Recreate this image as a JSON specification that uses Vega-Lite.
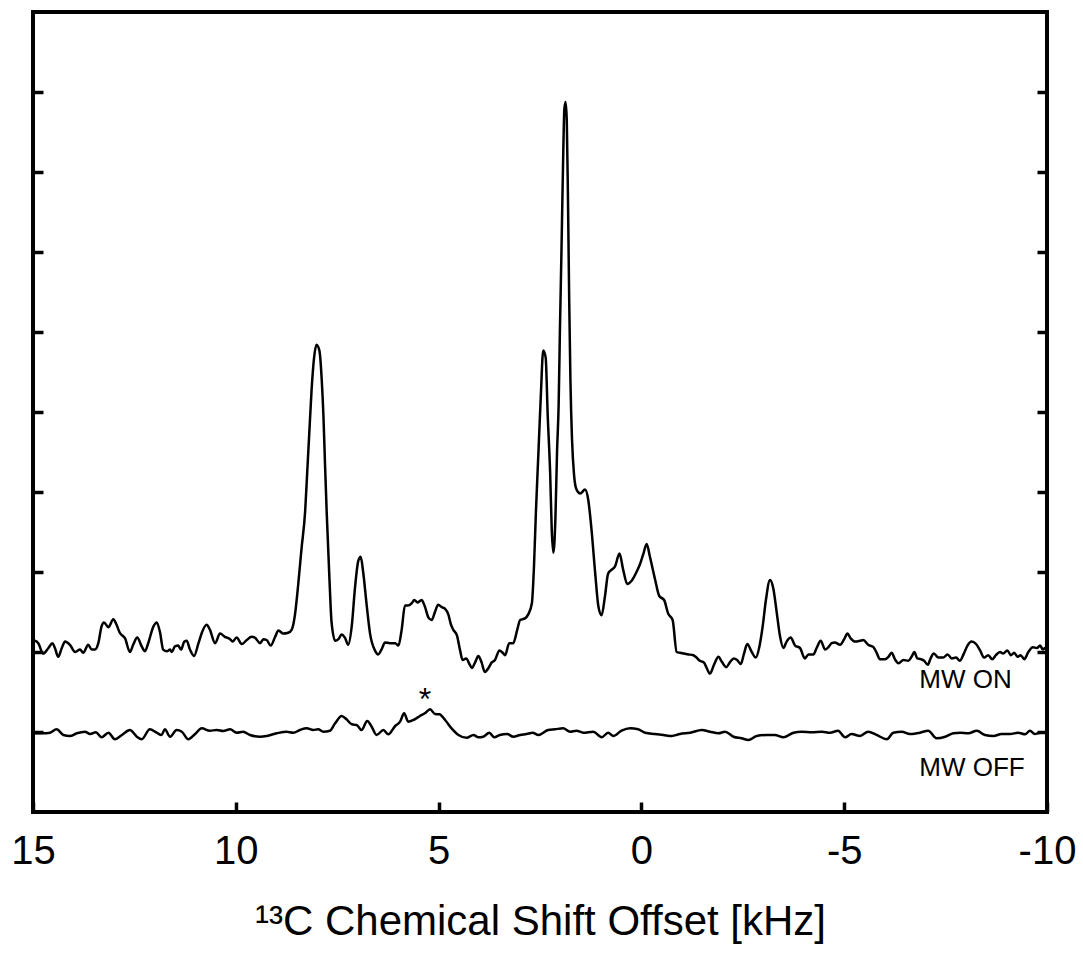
{
  "$schema": "https://vega.github.io/schema/vega-lite/v6.json",
  "width": 1014,
  "height": 800,
  "autosize": {"type": "none"},
  "padding": {"left": 33, "top": 12, "right": 36, "bottom": 142},
  "background": "white",
  "config": {
    "view": {"stroke": "black", "strokeWidth": 4},
    "font": "Liberation Sans"
  },
  "datasets": {
    "spectra": [
      {"trace":"MW ON","x":15.0,"y":2.10},{"trace":"MW ON","x":14.95,"y":2.14},{"trace":"MW ON","x":14.87,"y":2.11},{"trace":"MW ON","x":14.75,"y":1.98},{"trace":"MW ON","x":14.62,"y":2.05},{"trace":"MW ON","x":14.52,"y":2.11},{"trace":"MW ON","x":14.46,"y":2.05},{"trace":"MW ON","x":14.38,"y":1.94},{"trace":"MW ON","x":14.29,"y":2.05},{"trace":"MW ON","x":14.21,"y":2.13},{"trace":"MW ON","x":14.09,"y":2.09},{"trace":"MW ON","x":13.96,"y":2.00},{"trace":"MW ON","x":13.84,"y":2.03},{"trace":"MW ON","x":13.76,"y":1.99},{"trace":"MW ON","x":13.64,"y":2.09},{"trace":"MW ON","x":13.55,"y":2.03},{"trace":"MW ON","x":13.47,"y":2.03},{"trace":"MW ON","x":13.39,"y":2.11},{"trace":"MW ON","x":13.31,"y":2.32},{"trace":"MW ON","x":13.25,"y":2.37},{"trace":"MW ON","x":13.14,"y":2.31},{"trace":"MW ON","x":13.02,"y":2.41},{"trace":"MW ON","x":12.94,"y":2.34},{"trace":"MW ON","x":12.86,"y":2.24},{"trace":"MW ON","x":12.73,"y":2.17},{"trace":"MW ON","x":12.61,"y":2.00},{"trace":"MW ON","x":12.53,"y":2.09},{"trace":"MW ON","x":12.43,"y":2.18},{"trace":"MW ON","x":12.32,"y":2.07},{"trace":"MW ON","x":12.24,"y":2.01},{"trace":"MW ON","x":12.16,"y":2.11},{"trace":"MW ON","x":12.03,"y":2.32},{"trace":"MW ON","x":11.95,"y":2.37},{"trace":"MW ON","x":11.87,"y":2.25},{"trace":"MW ON","x":11.79,"y":2.03},{"trace":"MW ON","x":11.70,"y":2.01},{"trace":"MW ON","x":11.62,"y":2.03},{"trace":"MW ON","x":11.58,"y":2.00},{"trace":"MW ON","x":11.50,"y":2.07},{"trace":"MW ON","x":11.42,"y":2.08},{"trace":"MW ON","x":11.35,"y":2.03},{"trace":"MW ON","x":11.27,"y":2.13},{"trace":"MW ON","x":11.21,"y":2.14},{"trace":"MW ON","x":11.13,"y":2.03},{"trace":"MW ON","x":11.03,"y":1.95},{"trace":"MW ON","x":10.92,"y":2.11},{"trace":"MW ON","x":10.83,"y":2.25},{"trace":"MW ON","x":10.72,"y":2.34},{"trace":"MW ON","x":10.64,"y":2.28},{"trace":"MW ON","x":10.51,"y":2.11},{"trace":"MW ON","x":10.39,"y":2.23},{"trace":"MW ON","x":10.27,"y":2.19},{"trace":"MW ON","x":10.14,"y":2.16},{"trace":"MW ON","x":10.08,"y":2.13},{"trace":"MW ON","x":9.98,"y":2.18},{"trace":"MW ON","x":9.85,"y":2.10},{"trace":"MW ON","x":9.73,"y":2.15},{"trace":"MW ON","x":9.61,"y":2.19},{"trace":"MW ON","x":9.53,"y":2.18},{"trace":"MW ON","x":9.40,"y":2.11},{"trace":"MW ON","x":9.32,"y":2.16},{"trace":"MW ON","x":9.24,"y":2.15},{"trace":"MW ON","x":9.14,"y":2.08},{"trace":"MW ON","x":9.03,"y":2.19},{"trace":"MW ON","x":8.95,"y":2.27},{"trace":"MW ON","x":8.83,"y":2.23},{"trace":"MW ON","x":8.71,"y":2.24},{"trace":"MW ON","x":8.62,"y":2.28},{"trace":"MW ON","x":8.54,"y":2.47},{"trace":"MW ON","x":8.46,"y":2.85},{"trace":"MW ON","x":8.38,"y":3.29},{"trace":"MW ON","x":8.29,"y":3.76},{"trace":"MW ON","x":8.24,"y":4.24},{"trace":"MW ON","x":8.19,"y":4.72},{"trace":"MW ON","x":8.13,"y":5.29},{"trace":"MW ON","x":8.07,"y":5.68},{"trace":"MW ON","x":8.01,"y":5.84},{"trace":"MW ON","x":7.94,"y":5.77},{"trace":"MW ON","x":7.88,"y":5.39},{"trace":"MW ON","x":7.84,"y":4.96},{"trace":"MW ON","x":7.80,"y":4.34},{"trace":"MW ON","x":7.76,"y":3.76},{"trace":"MW ON","x":7.69,"y":2.90},{"trace":"MW ON","x":7.64,"y":2.38},{"trace":"MW ON","x":7.55,"y":2.14},{"trace":"MW ON","x":7.47,"y":2.16},{"trace":"MW ON","x":7.39,"y":2.22},{"trace":"MW ON","x":7.31,"y":2.18},{"trace":"MW ON","x":7.23,"y":2.09},{"trace":"MW ON","x":7.14,"y":2.33},{"trace":"MW ON","x":7.06,"y":2.81},{"trace":"MW ON","x":6.98,"y":3.14},{"trace":"MW ON","x":6.92,"y":3.19},{"trace":"MW ON","x":6.86,"y":3.00},{"trace":"MW ON","x":6.77,"y":2.57},{"trace":"MW ON","x":6.69,"y":2.23},{"trace":"MW ON","x":6.57,"y":2.02},{"trace":"MW ON","x":6.49,"y":1.97},{"trace":"MW ON","x":6.40,"y":2.04},{"trace":"MW ON","x":6.32,"y":2.12},{"trace":"MW ON","x":6.20,"y":2.11},{"trace":"MW ON","x":6.07,"y":2.11},{"trace":"MW ON","x":5.99,"y":2.08},{"trace":"MW ON","x":5.91,"y":2.28},{"trace":"MW ON","x":5.83,"y":2.58},{"trace":"MW ON","x":5.75,"y":2.58},{"trace":"MW ON","x":5.66,"y":2.61},{"trace":"MW ON","x":5.60,"y":2.65},{"trace":"MW ON","x":5.52,"y":2.62},{"trace":"MW ON","x":5.42,"y":2.65},{"trace":"MW ON","x":5.34,"y":2.57},{"trace":"MW ON","x":5.25,"y":2.43},{"trace":"MW ON","x":5.17,"y":2.40},{"trace":"MW ON","x":5.09,"y":2.50},{"trace":"MW ON","x":5.01,"y":2.59},{"trace":"MW ON","x":4.92,"y":2.56},{"trace":"MW ON","x":4.84,"y":2.54},{"trace":"MW ON","x":4.76,"y":2.47},{"trace":"MW ON","x":4.70,"y":2.35},{"trace":"MW ON","x":4.64,"y":2.28},{"trace":"MW ON","x":4.55,"y":2.21},{"trace":"MW ON","x":4.47,"y":2.02},{"trace":"MW ON","x":4.41,"y":1.90},{"trace":"MW ON","x":4.32,"y":1.92},{"trace":"MW ON","x":4.24,"y":1.85},{"trace":"MW ON","x":4.18,"y":1.80},{"trace":"MW ON","x":4.10,"y":1.87},{"trace":"MW ON","x":4.02,"y":1.95},{"trace":"MW ON","x":3.94,"y":1.87},{"trace":"MW ON","x":3.86,"y":1.75},{"trace":"MW ON","x":3.77,"y":1.80},{"trace":"MW ON","x":3.69,"y":1.87},{"trace":"MW ON","x":3.61,"y":1.90},{"trace":"MW ON","x":3.50,"y":2.02},{"trace":"MW ON","x":3.42,"y":1.99},{"trace":"MW ON","x":3.36,"y":1.96},{"trace":"MW ON","x":3.26,"y":2.11},{"trace":"MW ON","x":3.16,"y":2.11},{"trace":"MW ON","x":3.06,"y":2.28},{"trace":"MW ON","x":2.99,"y":2.40},{"trace":"MW ON","x":2.87,"y":2.42},{"trace":"MW ON","x":2.79,"y":2.47},{"trace":"MW ON","x":2.70,"y":2.61},{"trace":"MW ON","x":2.65,"y":3.05},{"trace":"MW ON","x":2.60,"y":3.76},{"trace":"MW ON","x":2.54,"y":4.48},{"trace":"MW ON","x":2.48,"y":5.20},{"trace":"MW ON","x":2.42,"y":5.77},{"trace":"MW ON","x":2.36,"y":5.68},{"trace":"MW ON","x":2.31,"y":4.96},{"trace":"MW ON","x":2.25,"y":4.24},{"trace":"MW ON","x":2.21,"y":3.52},{"trace":"MW ON","x":2.17,"y":3.24},{"trace":"MW ON","x":2.12,"y":3.67},{"trace":"MW ON","x":2.08,"y":4.50},{"trace":"MW ON","x":2.04,"y":5.10},{"trace":"MW ON","x":2.01,"y":5.99},{"trace":"MW ON","x":1.97,"y":7.03},{"trace":"MW ON","x":1.93,"y":8.15},{"trace":"MW ON","x":1.90,"y":8.78},{"trace":"MW ON","x":1.87,"y":8.875},{"trace":"MW ON","x":1.84,"y":8.65},{"trace":"MW ON","x":1.81,"y":7.65},{"trace":"MW ON","x":1.78,"y":6.40},{"trace":"MW ON","x":1.75,"y":5.40},{"trace":"MW ON","x":1.71,"y":4.65},{"trace":"MW ON","x":1.66,"y":4.21},{"trace":"MW ON","x":1.60,"y":4.03},{"trace":"MW ON","x":1.51,"y":3.98},{"trace":"MW ON","x":1.39,"y":4.03},{"trace":"MW ON","x":1.31,"y":3.90},{"trace":"MW ON","x":1.23,"y":3.53},{"trace":"MW ON","x":1.14,"y":2.99},{"trace":"MW ON","x":1.06,"y":2.57},{"trace":"MW ON","x":0.98,"y":2.46},{"trace":"MW ON","x":0.90,"y":2.69},{"trace":"MW ON","x":0.82,"y":2.98},{"trace":"MW ON","x":0.73,"y":3.03},{"trace":"MW ON","x":0.65,"y":3.07},{"trace":"MW ON","x":0.54,"y":3.23},{"trace":"MW ON","x":0.45,"y":3.03},{"trace":"MW ON","x":0.35,"y":2.85},{"trace":"MW ON","x":0.24,"y":2.89},{"trace":"MW ON","x":0.12,"y":3.00},{"trace":"MW ON","x":0.04,"y":3.09},{"trace":"MW ON","x":-0.05,"y":3.23},{"trace":"MW ON","x":-0.13,"y":3.35},{"trace":"MW ON","x":-0.21,"y":3.19},{"trace":"MW ON","x":-0.34,"y":2.90},{"trace":"MW ON","x":-0.44,"y":2.70},{"trace":"MW ON","x":-0.56,"y":2.65},{"trace":"MW ON","x":-0.66,"y":2.48},{"trace":"MW ON","x":-0.77,"y":2.40},{"trace":"MW ON","x":-0.87,"y":2.00},{"trace":"MW ON","x":-0.95,"y":1.99},{"trace":"MW ON","x":-1.05,"y":1.98},{"trace":"MW ON","x":-1.16,"y":1.97},{"trace":"MW ON","x":-1.28,"y":1.96},{"trace":"MW ON","x":-1.36,"y":1.93},{"trace":"MW ON","x":-1.44,"y":1.89},{"trace":"MW ON","x":-1.54,"y":1.87},{"trace":"MW ON","x":-1.61,"y":1.80},{"trace":"MW ON","x":-1.69,"y":1.73},{"trace":"MW ON","x":-1.79,"y":1.84},{"trace":"MW ON","x":-1.90,"y":1.94},{"trace":"MW ON","x":-1.98,"y":1.88},{"trace":"MW ON","x":-2.09,"y":1.81},{"trace":"MW ON","x":-2.18,"y":1.87},{"trace":"MW ON","x":-2.28,"y":1.92},{"trace":"MW ON","x":-2.36,"y":1.90},{"trace":"MW ON","x":-2.45,"y":1.85},{"trace":"MW ON","x":-2.53,"y":1.98},{"trace":"MW ON","x":-2.61,"y":2.10},{"trace":"MW ON","x":-2.72,"y":2.00},{"trace":"MW ON","x":-2.82,"y":1.93},{"trace":"MW ON","x":-2.91,"y":2.07},{"trace":"MW ON","x":-2.99,"y":2.32},{"trace":"MW ON","x":-3.07,"y":2.65},{"trace":"MW ON","x":-3.17,"y":2.90},{"trace":"MW ON","x":-3.25,"y":2.80},{"trace":"MW ON","x":-3.34,"y":2.48},{"trace":"MW ON","x":-3.42,"y":2.19},{"trace":"MW ON","x":-3.50,"y":2.05},{"trace":"MW ON","x":-3.58,"y":2.13},{"trace":"MW ON","x":-3.68,"y":2.18},{"trace":"MW ON","x":-3.79,"y":2.08},{"trace":"MW ON","x":-3.91,"y":2.05},{"trace":"MW ON","x":-4.03,"y":1.92},{"trace":"MW ON","x":-4.12,"y":1.97},{"trace":"MW ON","x":-4.24,"y":1.97},{"trace":"MW ON","x":-4.32,"y":2.05},{"trace":"MW ON","x":-4.42,"y":2.14},{"trace":"MW ON","x":-4.53,"y":2.03},{"trace":"MW ON","x":-4.61,"y":2.06},{"trace":"MW ON","x":-4.69,"y":2.11},{"trace":"MW ON","x":-4.77,"y":2.12},{"trace":"MW ON","x":-4.90,"y":2.09},{"trace":"MW ON","x":-5.00,"y":2.16},{"trace":"MW ON","x":-5.08,"y":2.23},{"trace":"MW ON","x":-5.16,"y":2.17},{"trace":"MW ON","x":-5.27,"y":2.13},{"trace":"MW ON","x":-5.39,"y":2.14},{"trace":"MW ON","x":-5.47,"y":2.15},{"trace":"MW ON","x":-5.59,"y":2.09},{"trace":"MW ON","x":-5.72,"y":2.06},{"trace":"MW ON","x":-5.80,"y":1.99},{"trace":"MW ON","x":-5.88,"y":1.91},{"trace":"MW ON","x":-6.01,"y":1.91},{"trace":"MW ON","x":-6.09,"y":1.94},{"trace":"MW ON","x":-6.17,"y":1.99},{"trace":"MW ON","x":-6.25,"y":1.91},{"trace":"MW ON","x":-6.34,"y":1.86},{"trace":"MW ON","x":-6.46,"y":1.90},{"trace":"MW ON","x":-6.58,"y":1.89},{"trace":"MW ON","x":-6.66,"y":1.94},{"trace":"MW ON","x":-6.73,"y":2.00},{"trace":"MW ON","x":-6.80,"y":1.92},{"trace":"MW ON","x":-6.89,"y":1.91},{"trace":"MW ON","x":-6.97,"y":1.89},{"trace":"MW ON","x":-7.06,"y":1.84},{"trace":"MW ON","x":-7.13,"y":1.92},{"trace":"MW ON","x":-7.21,"y":1.98},{"trace":"MW ON","x":-7.32,"y":1.93},{"trace":"MW ON","x":-7.44,"y":1.93},{"trace":"MW ON","x":-7.55,"y":1.97},{"trace":"MW ON","x":-7.65,"y":1.92},{"trace":"MW ON","x":-7.76,"y":1.93},{"trace":"MW ON","x":-7.85,"y":1.89},{"trace":"MW ON","x":-7.95,"y":1.98},{"trace":"MW ON","x":-8.04,"y":2.08},{"trace":"MW ON","x":-8.14,"y":2.13},{"trace":"MW ON","x":-8.25,"y":2.10},{"trace":"MW ON","x":-8.35,"y":2.02},{"trace":"MW ON","x":-8.45,"y":1.93},{"trace":"MW ON","x":-8.55,"y":1.96},{"trace":"MW ON","x":-8.65,"y":1.91},{"trace":"MW ON","x":-8.74,"y":1.96},{"trace":"MW ON","x":-8.84,"y":2.00},{"trace":"MW ON","x":-8.92,"y":1.98},{"trace":"MW ON","x":-9.02,"y":2.02},{"trace":"MW ON","x":-9.11,"y":1.96},{"trace":"MW ON","x":-9.19,"y":1.99},{"trace":"MW ON","x":-9.28,"y":1.94},{"trace":"MW ON","x":-9.35,"y":1.96},{"trace":"MW ON","x":-9.44,"y":1.91},{"trace":"MW ON","x":-9.54,"y":2.00},{"trace":"MW ON","x":-9.65,"y":2.06},{"trace":"MW ON","x":-9.75,"y":2.05},{"trace":"MW ON","x":-9.83,"y":2.08},{"trace":"MW ON","x":-9.90,"y":2.03},{"trace":"MW ON","x":-9.95,"y":2.05},{"trace":"MW ON","x":-10.0,"y":2.02},
      {"trace":"MW OFF","x":15.0,"y":0.98},{"trace":"MW OFF","x":14.95,"y":0.984},{"trace":"MW OFF","x":14.75,"y":0.984},{"trace":"MW OFF","x":14.58,"y":0.991},{"trace":"MW OFF","x":14.42,"y":1.034},{"trace":"MW OFF","x":14.25,"y":0.963},{"trace":"MW OFF","x":14.09,"y":0.950},{"trace":"MW OFF","x":13.92,"y":0.984},{"trace":"MW OFF","x":13.72,"y":1.004},{"trace":"MW OFF","x":13.59,"y":0.975},{"trace":"MW OFF","x":13.45,"y":0.996},{"trace":"MW OFF","x":13.31,"y":0.934},{"trace":"MW OFF","x":13.14,"y":0.991},{"trace":"MW OFF","x":12.98,"y":0.909},{"trace":"MW OFF","x":12.81,"y":0.963},{"trace":"MW OFF","x":12.61,"y":1.025},{"trace":"MW OFF","x":12.44,"y":0.941},{"trace":"MW OFF","x":12.32,"y":0.909},{"trace":"MW OFF","x":12.12,"y":1.034},{"trace":"MW OFF","x":11.95,"y":0.991},{"trace":"MW OFF","x":11.83,"y":0.963},{"trace":"MW OFF","x":11.75,"y":1.034},{"trace":"MW OFF","x":11.62,"y":0.941},{"trace":"MW OFF","x":11.46,"y":1.025},{"trace":"MW OFF","x":11.33,"y":1.004},{"trace":"MW OFF","x":11.17,"y":0.909},{"trace":"MW OFF","x":11.01,"y":0.971},{"trace":"MW OFF","x":10.84,"y":1.046},{"trace":"MW OFF","x":10.64,"y":1.016},{"trace":"MW OFF","x":10.47,"y":1.025},{"trace":"MW OFF","x":10.31,"y":1.013},{"trace":"MW OFF","x":10.14,"y":1.034},{"trace":"MW OFF","x":9.98,"y":0.991},{"trace":"MW OFF","x":9.82,"y":1.004},{"trace":"MW OFF","x":9.65,"y":0.963},{"trace":"MW OFF","x":9.40,"y":0.941},{"trace":"MW OFF","x":9.24,"y":0.950},{"trace":"MW OFF","x":8.99,"y":0.984},{"trace":"MW OFF","x":8.75,"y":1.004},{"trace":"MW OFF","x":8.58,"y":0.991},{"trace":"MW OFF","x":8.42,"y":1.025},{"trace":"MW OFF","x":8.25,"y":1.046},{"trace":"MW OFF","x":8.09,"y":1.025},{"trace":"MW OFF","x":7.97,"y":1.034},{"trace":"MW OFF","x":7.84,"y":1.004},{"trace":"MW OFF","x":7.68,"y":1.016},{"trace":"MW OFF","x":7.55,"y":1.109},{"trace":"MW OFF","x":7.39,"y":1.200},{"trace":"MW OFF","x":7.27,"y":1.159},{"trace":"MW OFF","x":7.14,"y":1.096},{"trace":"MW OFF","x":7.02,"y":1.088},{"trace":"MW OFF","x":6.90,"y":1.025},{"trace":"MW OFF","x":6.76,"y":1.138},{"trace":"MW OFF","x":6.65,"y":1.066},{"trace":"MW OFF","x":6.53,"y":0.963},{"trace":"MW OFF","x":6.36,"y":1.025},{"trace":"MW OFF","x":6.24,"y":0.971},{"trace":"MW OFF","x":6.07,"y":1.075},{"trace":"MW OFF","x":5.95,"y":1.129},{"trace":"MW OFF","x":5.85,"y":1.234},{"trace":"MW OFF","x":5.75,"y":1.129},{"trace":"MW OFF","x":5.62,"y":1.150},{"trace":"MW OFF","x":5.46,"y":1.200},{"trace":"MW OFF","x":5.34,"y":1.234},{"trace":"MW OFF","x":5.21,"y":1.284},{"trace":"MW OFF","x":5.09,"y":1.225},{"trace":"MW OFF","x":4.98,"y":1.221},{"trace":"MW OFF","x":4.84,"y":1.150},{"trace":"MW OFF","x":4.68,"y":1.046},{"trace":"MW OFF","x":4.51,"y":0.963},{"trace":"MW OFF","x":4.31,"y":0.929},{"trace":"MW OFF","x":4.14,"y":0.963},{"trace":"MW OFF","x":4.02,"y":0.934},{"trace":"MW OFF","x":3.90,"y":0.941},{"trace":"MW OFF","x":3.75,"y":0.991},{"trace":"MW OFF","x":3.63,"y":0.934},{"trace":"MW OFF","x":3.49,"y":0.963},{"trace":"MW OFF","x":3.31,"y":0.975},{"trace":"MW OFF","x":3.16,"y":0.941},{"trace":"MW OFF","x":2.99,"y":0.963},{"trace":"MW OFF","x":2.83,"y":0.975},{"trace":"MW OFF","x":2.68,"y":0.991},{"trace":"MW OFF","x":2.54,"y":0.963},{"trace":"MW OFF","x":2.30,"y":1.025},{"trace":"MW OFF","x":2.13,"y":1.034},{"trace":"MW OFF","x":1.93,"y":1.046},{"trace":"MW OFF","x":1.76,"y":1.004},{"trace":"MW OFF","x":1.60,"y":1.016},{"trace":"MW OFF","x":1.43,"y":0.991},{"trace":"MW OFF","x":1.19,"y":1.004},{"trace":"MW OFF","x":0.98,"y":0.934},{"trace":"MW OFF","x":0.82,"y":0.991},{"trace":"MW OFF","x":0.69,"y":0.950},{"trace":"MW OFF","x":0.49,"y":1.016},{"trace":"MW OFF","x":0.28,"y":1.046},{"trace":"MW OFF","x":0.08,"y":1.034},{"trace":"MW OFF","x":-0.09,"y":0.991},{"trace":"MW OFF","x":-0.33,"y":0.975},{"trace":"MW OFF","x":-0.54,"y":0.963},{"trace":"MW OFF","x":-0.75,"y":0.950},{"trace":"MW OFF","x":-0.95,"y":0.975},{"trace":"MW OFF","x":-1.20,"y":0.991},{"trace":"MW OFF","x":-1.49,"y":1.025},{"trace":"MW OFF","x":-1.69,"y":1.004},{"trace":"MW OFF","x":-1.90,"y":0.984},{"trace":"MW OFF","x":-2.06,"y":1.004},{"trace":"MW OFF","x":-2.27,"y":0.941},{"trace":"MW OFF","x":-2.47,"y":0.921},{"trace":"MW OFF","x":-2.64,"y":0.900},{"trace":"MW OFF","x":-2.84,"y":0.950},{"trace":"MW OFF","x":-3.09,"y":0.963},{"trace":"MW OFF","x":-3.29,"y":0.963},{"trace":"MW OFF","x":-3.50,"y":0.934},{"trace":"MW OFF","x":-3.75,"y":0.991},{"trace":"MW OFF","x":-3.95,"y":1.004},{"trace":"MW OFF","x":-4.20,"y":0.996},{"trace":"MW OFF","x":-4.45,"y":1.004},{"trace":"MW OFF","x":-4.65,"y":0.991},{"trace":"MW OFF","x":-4.85,"y":1.016},{"trace":"MW OFF","x":-5.02,"y":0.934},{"trace":"MW OFF","x":-5.18,"y":0.975},{"trace":"MW OFF","x":-5.39,"y":0.950},{"trace":"MW OFF","x":-5.59,"y":1.004},{"trace":"MW OFF","x":-5.80,"y":0.963},{"trace":"MW OFF","x":-6.05,"y":0.909},{"trace":"MW OFF","x":-6.21,"y":0.991},{"trace":"MW OFF","x":-6.42,"y":1.004},{"trace":"MW OFF","x":-6.62,"y":0.975},{"trace":"MW OFF","x":-6.87,"y":0.991},{"trace":"MW OFF","x":-7.07,"y":1.016},{"trace":"MW OFF","x":-7.28,"y":0.921},{"trace":"MW OFF","x":-7.49,"y":0.941},{"trace":"MW OFF","x":-7.69,"y":0.984},{"trace":"MW OFF","x":-7.86,"y":0.991},{"trace":"MW OFF","x":-8.06,"y":0.984},{"trace":"MW OFF","x":-8.27,"y":1.016},{"trace":"MW OFF","x":-8.47,"y":0.963},{"trace":"MW OFF","x":-8.68,"y":0.950},{"trace":"MW OFF","x":-8.88,"y":0.975},{"trace":"MW OFF","x":-9.09,"y":0.975},{"trace":"MW OFF","x":-9.29,"y":0.991},{"trace":"MW OFF","x":-9.46,"y":0.971},{"trace":"MW OFF","x":-9.58,"y":1.016},{"trace":"MW OFF","x":-9.70,"y":0.975},{"trace":"MW OFF","x":-9.83,"y":0.991},{"trace":"MW OFF","x":-9.95,"y":0.991},{"trace":"MW OFF","x":-10.0,"y":0.99}
    ],
    "labels": [
      {"label": "MW ON", "x": -6.85, "y": 1.546},
      {"label": "MW OFF", "x": -6.85, "y": 0.45}
    ],
    "marker": [
      {"label": "*", "x": 5.335, "y": 1.27}
    ]
  },
  "layer": [
    {
      "data": {"name": "spectra"},
      "mark": {"type": "line", "color": "black", "strokeWidth": 2.5, "interpolate": "monotone"},
      "encoding": {
        "x": {
          "field": "x", "type": "quantitative",
          "scale": {"domain": [-10, 15], "reverse": true, "nice": false, "zero": false},
          "axis": {
            "values": [15, 10, 5, 0, -5, -10],
            "labelExpr": "datum.value < 0 ? '-' + abs(datum.value) : '' + datum.value",
            "tickSize": -10, "tickWidth": 3.5, "tickColor": "black",
            "domain": false, "grid": false,
            "labelFontSize": 40, "labelFont": "Liberation Sans", "labelColor": "black",
            "labelPadding": 29, "labelFlush": false, "labelOverlap": false,
            "title": "¹³C Chemical Shift Offset [kHz]",
            "titleFontSize": 42, "titleFontWeight": "normal", "titleFont": "Liberation Sans",
            "titleColor": "black", "titleY": 122, "titleBaseline": "alphabetic"
          }
        },
        "y": {
          "field": "y", "type": "quantitative",
          "scale": {"domain": [0, 10], "nice": false, "zero": false},
          "axis": {
            "values": [1, 2, 3, 4, 5, 6, 7, 8, 9],
            "tickSize": -10, "tickWidth": 3.5, "tickColor": "black",
            "labels": false, "domain": false, "grid": false, "title": null
          }
        },
        "detail": {"field": "trace", "type": "nominal"}
      }
    },
    {
      "data": {"name": "labels"},
      "mark": {"type": "text", "align": "left", "baseline": "alphabetic", "fontSize": 26, "font": "Liberation Sans", "color": "black"},
      "encoding": {
        "x": {"field": "x", "type": "quantitative"},
        "y": {
          "field": "y", "type": "quantitative",
          "axis": {
            "orient": "right",
            "values": [1, 2, 3, 4, 5, 6, 7, 8, 9],
            "tickSize": -10, "tickWidth": 3.5, "tickColor": "black",
            "labels": false, "domain": false, "grid": false, "title": null
          }
        },
        "text": {"field": "label", "type": "nominal"}
      }
    },
    {
      "data": {"name": "marker"},
      "mark": {"type": "text", "align": "center", "baseline": "alphabetic", "fontSize": 32, "font": "Liberation Sans", "color": "black"},
      "encoding": {
        "x": {"field": "x", "type": "quantitative"},
        "y": {"field": "y", "type": "quantitative", "axis": null},
        "text": {"field": "label", "type": "nominal"}
      }
    }
  ],
  "resolve": {"axis": {"y": "independent"}}
}
